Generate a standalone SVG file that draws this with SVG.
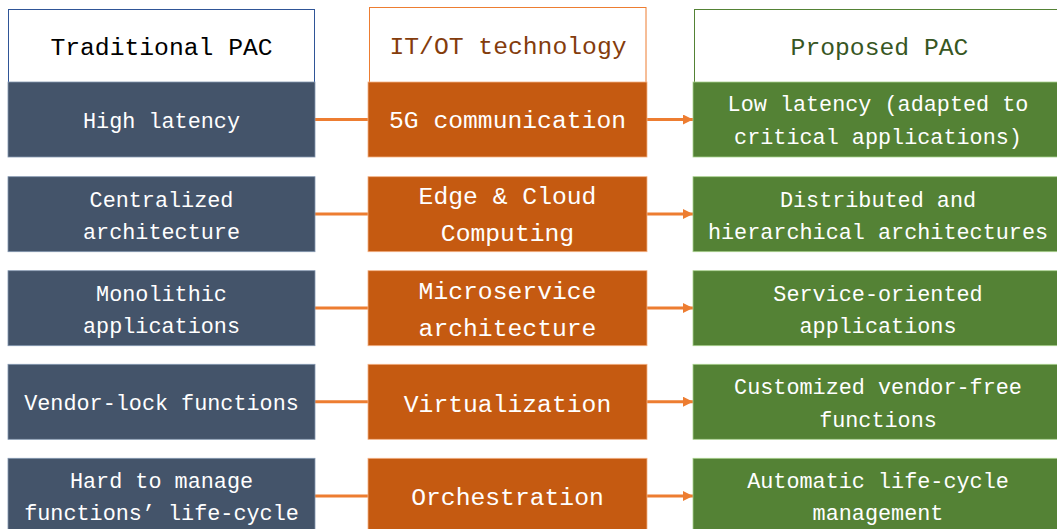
<svg xmlns="http://www.w3.org/2000/svg" width="1057" height="529" viewBox="0 0 1057 529">
<style>
text{font-family:"Liberation Mono","DejaVu Sans Mono",monospace;text-anchor:middle}
.hd{font-size:24.7px}
.sm{font-size:21.8px;fill:#FFFFFF}
.md{font-size:24.7px;fill:#FFFFFF}
.bl{fill:#44546A;stroke:#8497B0;stroke-width:0.8}
.or{fill:#C55A11;stroke:#F4B183;stroke-width:0.8}
.gr{fill:#548235;stroke:#A9D18E;stroke-width:0.8}
.cn{stroke:#ED7D31;stroke-width:3;fill:none}
</style>
<defs>
<marker id="ah" markerWidth="10" markerHeight="10" refX="10" refY="5" orient="auto" markerUnits="userSpaceOnUse">
<path d="M0,0 L10,5 L0,10 Z" fill="#ED7D31"/>
</marker>
</defs>
<rect width="1057" height="529" fill="#FFFFFF"/>
<g id="connectors">
<line class="cn" x1="315" y1="119.5" x2="368" y2="119.5"/>
<line class="cn" x1="647" y1="119.5" x2="693" y2="119.5" marker-end="url(#ah)"/>
<line class="cn" x1="315" y1="214" x2="368" y2="214"/>
<line class="cn" x1="647" y1="214" x2="693" y2="214" marker-end="url(#ah)"/>
<line class="cn" x1="315" y1="308" x2="368" y2="308"/>
<line class="cn" x1="647" y1="308" x2="693" y2="308" marker-end="url(#ah)"/>
<line class="cn" x1="315" y1="401.7" x2="368" y2="401.7"/>
<line class="cn" x1="647" y1="401.7" x2="693" y2="401.7" marker-end="url(#ah)"/>
<line class="cn" x1="315" y1="496" x2="368" y2="496"/>
<line class="cn" x1="647" y1="496" x2="693" y2="496" marker-end="url(#ah)"/>
</g>
<g id="header-traditional">
<rect x="8.5" y="9.5" width="306" height="73" fill="#FFFFFF" stroke="#2F5597" stroke-width="1"/>
<text class="hd" x="161.5" y="55" fill="#000000">Traditional PAC</text>
</g>
<g id="header-itot">
<rect x="369.5" y="7.5" width="276.5" height="75" fill="#FFFFFF" stroke="#ED7D31" stroke-width="1"/>
<text class="hd" x="508" y="53.5" fill="#843C0C">IT/OT technology</text>
</g>
<g id="header-proposed">
<rect x="694.5" y="9.5" width="370" height="73" fill="#FFFFFF" stroke="#548235" stroke-width="1"/>
<text class="hd" x="879.5" y="55" fill="#375623">Proposed PAC</text>
</g>
<g id="trad-1"><rect class="bl" x="8" y="82" width="307" height="75"/><text class="sm" x="161.5" y="128.3">High latency</text></g>
<g id="trad-2"><rect class="bl" x="8" y="176.7" width="307" height="75"/><text class="sm" x="161.5" y="206.7">Centralized</text><text class="sm" x="161.5" y="239">architecture</text></g>
<g id="trad-3"><rect class="bl" x="8" y="270.7" width="307" height="75"/><text class="sm" x="161.5" y="300.5">Monolithic</text><text class="sm" x="161.5" y="332.8">applications</text></g>
<g id="trad-4"><rect class="bl" x="8" y="364.3" width="307" height="75"/><text class="sm" x="161.5" y="410">Vendor-lock functions</text></g>
<g id="trad-5"><rect class="bl" x="8" y="458.3" width="307" height="80"/><text class="sm" x="161.5" y="488.3">Hard to manage</text><text class="sm" x="161.5" y="520">functions’ life-cycle</text></g>
<g id="tech-1"><rect class="or" x="368" y="82" width="279" height="75"/><text class="md" x="507.5" y="128.3">5G communication</text></g>
<g id="tech-2"><rect class="or" x="368" y="176.7" width="279" height="75"/><text class="md" x="507.5" y="204.3">Edge &amp; Cloud</text><text class="md" x="507.5" y="241">Computing</text></g>
<g id="tech-3"><rect class="or" x="368" y="270.7" width="279" height="75"/><text class="md" x="507.5" y="299.3">Microservice</text><text class="md" x="507.5" y="335.7">architecture</text></g>
<g id="tech-4"><rect class="or" x="368" y="364.3" width="279" height="75"/><text class="md" x="507.5" y="411.5">Virtualization</text></g>
<g id="tech-5"><rect class="or" x="368" y="458.3" width="279" height="80"/><text class="md" x="507.5" y="505">Orchestration</text></g>
<g id="prop-1"><rect class="gr" x="693" y="82" width="372" height="75"/><text class="sm" x="878" y="111">Low latency (adapted to</text><text class="sm" x="878" y="144">critical applications)</text></g>
<g id="prop-2"><rect class="gr" x="693" y="176.7" width="372" height="75"/><text class="sm" x="878" y="206.7">Distributed and</text><text class="sm" x="878" y="239">hierarchical architectures</text></g>
<g id="prop-3"><rect class="gr" x="693" y="270.7" width="372" height="75"/><text class="sm" x="878" y="300.5">Service-oriented</text><text class="sm" x="878" y="332.8">applications</text></g>
<g id="prop-4"><rect class="gr" x="693" y="364.3" width="372" height="75"/><text class="sm" x="878" y="394.3">Customized vendor-free</text><text class="sm" x="878" y="426.7">functions</text></g>
<g id="prop-5"><rect class="gr" x="693" y="458.3" width="372" height="80"/><text class="sm" x="878" y="488.3">Automatic life-cycle</text><text class="sm" x="878" y="520">management</text></g>
</svg>
